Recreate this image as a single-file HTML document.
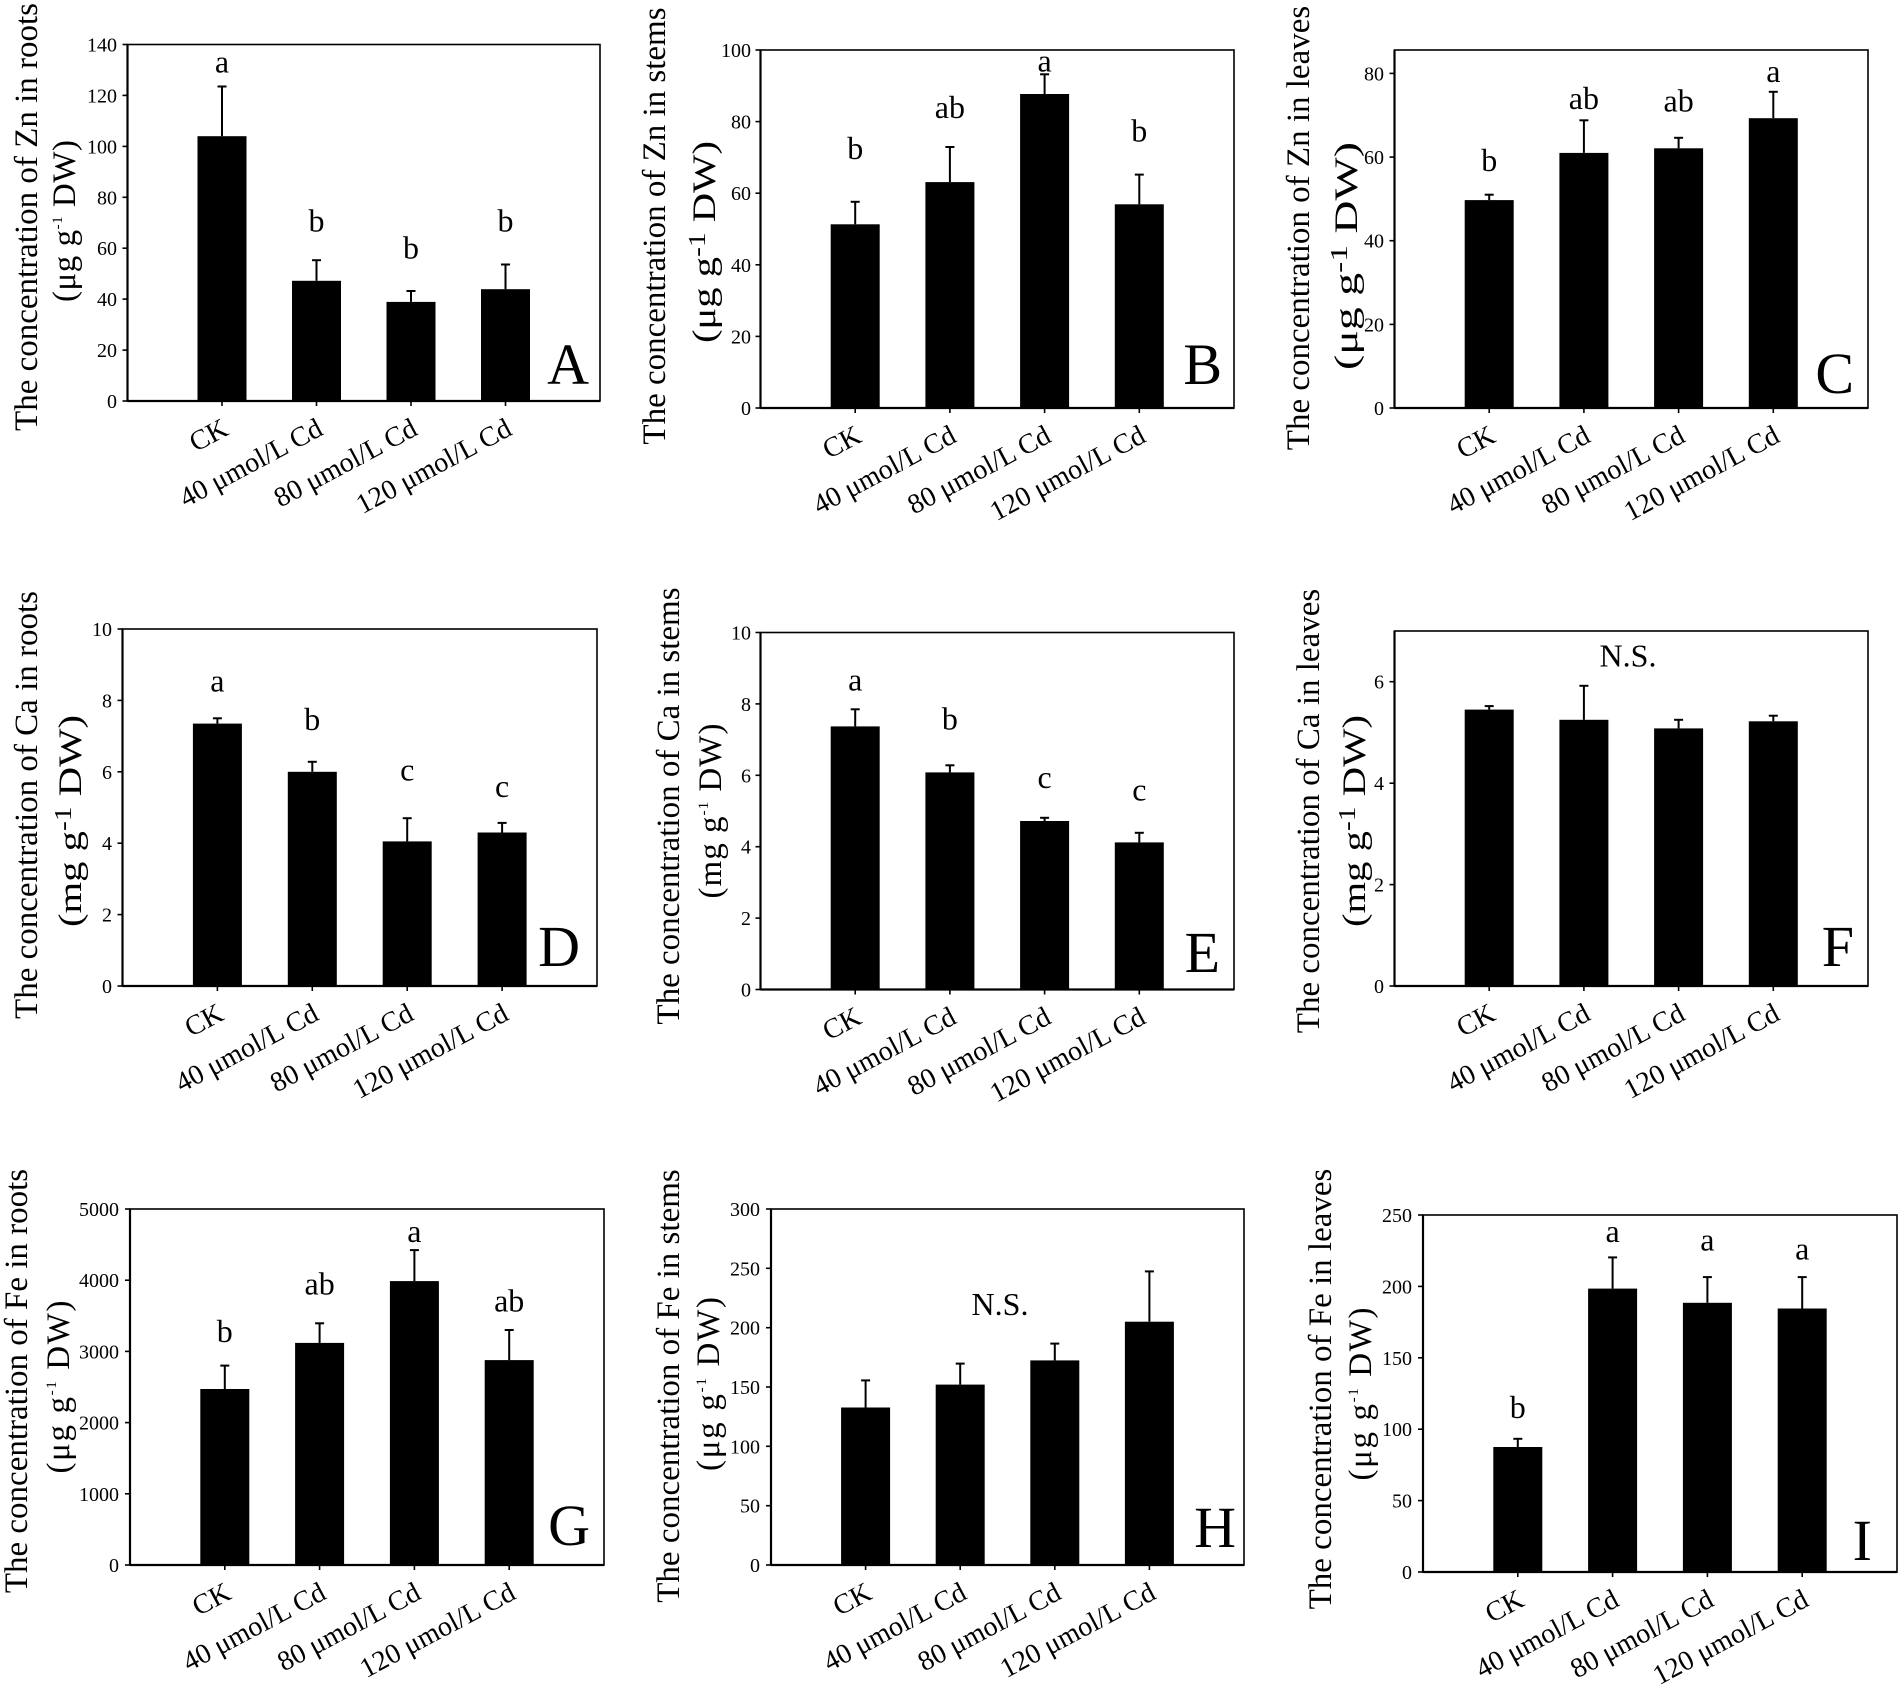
<!DOCTYPE html>
<html><head><meta charset="utf-8"><style>
html,body{margin:0;padding:0;background:#fff}
svg{display:block}
text{font-family:"Liberation Serif","DejaVu Serif",serif;fill:#000}
.tk{font-size:20px;text-anchor:end}
.xl{font-size:28px;text-anchor:end}
.lt{font-size:32px;text-anchor:middle}
.pl{font-size:58px;text-anchor:end}
.yt{font-size:33px;text-anchor:middle}
.bx{fill:none;stroke:#000;stroke-width:1.6}
.ax{stroke:#000;stroke-width:2.2}
.tm{stroke:#000;stroke-width:1.6}
.er{stroke:#000;stroke-width:2}
</style></head><body>
<svg xmlns="http://www.w3.org/2000/svg" width="1900" height="1693" viewBox="0 0 1900 1693">
<rect width="1900" height="1693" fill="#fff"/>

<!-- ================= A ================= -->
<g>
<rect class="bx" x="127.5" y="44.5" width="472.5" height="356.5"/>
<line class="ax" x1="127.5" y1="44.5" x2="127.5" y2="401"/>
<line class="ax" x1="127.5" y1="401" x2="600" y2="401"/>
<g class="tm">
<line x1="122.5" y1="401" x2="127.5" y2="401"/><line x1="122.5" y1="350.1" x2="127.5" y2="350.1"/>
<line x1="122.5" y1="299.1" x2="127.5" y2="299.1"/><line x1="122.5" y1="248.2" x2="127.5" y2="248.2"/>
<line x1="122.5" y1="197.3" x2="127.5" y2="197.3"/><line x1="122.5" y1="146.4" x2="127.5" y2="146.4"/>
<line x1="122.5" y1="95.4" x2="127.5" y2="95.4"/><line x1="122.5" y1="44.5" x2="127.5" y2="44.5"/>
<line x1="222" y1="401" x2="222" y2="406"/><line x1="316.5" y1="401" x2="316.5" y2="406"/>
<line x1="411" y1="401" x2="411" y2="406"/><line x1="505.5" y1="401" x2="505.5" y2="406"/>
</g>
<text class="tk" x="117" y="408">0</text><text class="tk" x="117" y="357.1">20</text>
<text class="tk" x="117" y="306.1">40</text><text class="tk" x="117" y="255.2">60</text>
<text class="tk" x="117" y="204.3">80</text><text class="tk" x="117" y="153.4">100</text>
<text class="tk" x="117" y="102.4">120</text><text class="tk" x="117" y="51.5">140</text>
<rect x="197.5" y="136.2" width="49" height="264.8"/>
<rect x="292" y="280.8" width="49" height="120.2"/>
<rect x="386.5" y="301.9" width="49" height="99.1"/>
<rect x="481" y="289.2" width="49" height="111.8"/>
<g class="er">
<line x1="222" y1="136.2" x2="222" y2="86.5"/><line x1="217.5" y1="86.5" x2="226.5" y2="86.5"/>
<line x1="316.5" y1="280.8" x2="316.5" y2="260.2"/><line x1="312" y1="260.2" x2="321" y2="260.2"/>
<line x1="411" y1="301.9" x2="411" y2="291"/><line x1="406.5" y1="291" x2="415.5" y2="291"/>
<line x1="505.5" y1="289.2" x2="505.5" y2="264.5"/><line x1="501" y1="264.5" x2="510" y2="264.5"/>
</g>
<text class="lt" x="222" y="72.7">a</text><text class="lt" x="316.5" y="231.7">b</text>
<text class="lt" x="411" y="258.3">b</text><text class="lt" x="505.5" y="231.7">b</text>
<text class="xl" transform="translate(230,434) rotate(-28)">CK</text>
<text class="xl" transform="translate(324.5,434) rotate(-28)">40 μmol/L Cd</text>
<text class="xl" transform="translate(419,434) rotate(-28)">80 μmol/L Cd</text>
<text class="xl" transform="translate(513.5,434) rotate(-28)">120 μmol/L Cd</text>
<text class="pl" x="589" y="384">A</text>
<text class="yt" transform="translate(37,217) rotate(-90)">The concentration of Zn in roots</text>
<text class="yt" transform="translate(75,221) rotate(-90)" textLength="162" lengthAdjust="spacing">(μg g<tspan font-size="15" dy="-13">-1</tspan><tspan dy="13"> DW)</tspan></text>
</g>

<!-- ================= B ================= -->
<g>
<rect class="bx" x="760.5" y="50" width="473.5" height="358"/>
<line class="ax" x1="760.5" y1="50" x2="760.5" y2="408"/>
<line class="ax" x1="760.5" y1="408" x2="1234" y2="408"/>
<g class="tm">
<line x1="755.5" y1="408" x2="760.5" y2="408"/><line x1="755.5" y1="336.4" x2="760.5" y2="336.4"/>
<line x1="755.5" y1="264.8" x2="760.5" y2="264.8"/><line x1="755.5" y1="193.2" x2="760.5" y2="193.2"/>
<line x1="755.5" y1="121.6" x2="760.5" y2="121.6"/><line x1="755.5" y1="50" x2="760.5" y2="50"/>
<line x1="855.2" y1="408" x2="855.2" y2="413"/><line x1="949.9" y1="408" x2="949.9" y2="413"/>
<line x1="1044.6" y1="408" x2="1044.6" y2="413"/><line x1="1139.3" y1="408" x2="1139.3" y2="413"/>
</g>
<text class="tk" x="751" y="415">0</text><text class="tk" x="751" y="343.4">20</text>
<text class="tk" x="751" y="271.8">40</text><text class="tk" x="751" y="200.2">60</text>
<text class="tk" x="751" y="128.6">80</text><text class="tk" x="751" y="57">100</text>
<rect x="830.7" y="224.3" width="49" height="183.7"/>
<rect x="925.4" y="182.1" width="49" height="225.9"/>
<rect x="1020.1" y="94" width="49" height="314"/>
<rect x="1114.8" y="204.3" width="49" height="203.7"/>
<g class="er">
<line x1="855.2" y1="224.3" x2="855.2" y2="201.8"/><line x1="850.7" y1="201.8" x2="859.7" y2="201.8"/>
<line x1="949.9" y1="182.1" x2="949.9" y2="147"/><line x1="945.4" y1="147" x2="954.4" y2="147"/>
<line x1="1044.6" y1="94" x2="1044.6" y2="74.3"/><line x1="1040.1" y1="74.3" x2="1049.1" y2="74.3"/>
<line x1="1139.3" y1="204.3" x2="1139.3" y2="174.6"/><line x1="1134.8" y1="174.6" x2="1143.8" y2="174.6"/>
</g>
<text class="lt" x="855.2" y="158.8">b</text><text class="lt" x="949.9" y="118">ab</text>
<text class="lt" x="1044.6" y="71.5">a</text><text class="lt" x="1139.3" y="141.3">b</text>
<text class="xl" transform="translate(863.2,441) rotate(-28)">CK</text>
<text class="xl" transform="translate(957.9,441) rotate(-28)">40 μmol/L Cd</text>
<text class="xl" transform="translate(1052.6,441) rotate(-28)">80 μmol/L Cd</text>
<text class="xl" transform="translate(1147.3,441) rotate(-28)">120 μmol/L Cd</text>
<text class="pl" x="1222" y="384">B</text>
<text class="yt" transform="translate(665,226) rotate(-90)">The concentration of Zn in stems</text>
<text class="yt" transform="translate(715,242) rotate(-90)" textLength="202" lengthAdjust="spacingAndGlyphs">(μg g<tspan font-size="24" dy="-10">-1</tspan><tspan dy="10"> DW)</tspan></text>
</g>

<!-- ================= C ================= -->
<g>
<rect class="bx" x="1394.5" y="50" width="473.5" height="358"/>
<line class="ax" x1="1394.5" y1="50" x2="1394.5" y2="408"/>
<line class="ax" x1="1394.5" y1="408" x2="1868" y2="408"/>
<g class="tm">
<line x1="1389.5" y1="408" x2="1394.5" y2="408"/><line x1="1389.5" y1="324.4" x2="1394.5" y2="324.4"/>
<line x1="1389.5" y1="240.7" x2="1394.5" y2="240.7"/><line x1="1389.5" y1="157.1" x2="1394.5" y2="157.1"/>
<line x1="1389.5" y1="73.4" x2="1394.5" y2="73.4"/>
<line x1="1489.2" y1="408" x2="1489.2" y2="413"/><line x1="1583.9" y1="408" x2="1583.9" y2="413"/>
<line x1="1678.6" y1="408" x2="1678.6" y2="413"/><line x1="1773.3" y1="408" x2="1773.3" y2="413"/>
</g>
<text class="tk" x="1384" y="415">0</text><text class="tk" x="1384" y="331.4">20</text>
<text class="tk" x="1384" y="247.7">40</text><text class="tk" x="1384" y="164.1">60</text>
<text class="tk" x="1384" y="80.4">80</text>
<rect x="1464.7" y="200.1" width="49" height="207.9"/>
<rect x="1559.4" y="152.9" width="49" height="255.1"/>
<rect x="1654.1" y="148.3" width="49" height="259.7"/>
<rect x="1748.8" y="118.2" width="49" height="289.8"/>
<g class="er">
<line x1="1489.2" y1="200.1" x2="1489.2" y2="194.7"/><line x1="1484.7" y1="194.7" x2="1493.7" y2="194.7"/>
<line x1="1583.9" y1="152.9" x2="1583.9" y2="120.3"/><line x1="1579.4" y1="120.3" x2="1588.4" y2="120.3"/>
<line x1="1678.6" y1="148.3" x2="1678.6" y2="137.8"/><line x1="1674.1" y1="137.8" x2="1683.1" y2="137.8"/>
<line x1="1773.3" y1="118.2" x2="1773.3" y2="91.8"/><line x1="1768.8" y1="91.8" x2="1777.8" y2="91.8"/>
</g>
<text class="lt" x="1489.2" y="170.9">b</text><text class="lt" x="1583.9" y="109">ab</text>
<text class="lt" x="1678.6" y="111.5">ab</text><text class="lt" x="1773.3" y="82.2">a</text>
<text class="xl" transform="translate(1497.2,441) rotate(-28)">CK</text>
<text class="xl" transform="translate(1591.9,441) rotate(-28)">40 μmol/L Cd</text>
<text class="xl" transform="translate(1686.6,441) rotate(-28)">80 μmol/L Cd</text>
<text class="xl" transform="translate(1781.3,441) rotate(-28)">120 μmol/L Cd</text>
<text class="pl" x="1854" y="393">C</text>
<text class="yt" transform="translate(1309,228) rotate(-90)">The concentration of Zn in leaves</text>
<text class="yt" transform="translate(1357,256) rotate(-90)" textLength="228" lengthAdjust="spacingAndGlyphs">(μg g<tspan font-size="24" dy="-10">-1</tspan><tspan dy="10"> DW)</tspan></text>
</g>

<!-- ================= D ================= -->
<g>
<rect class="bx" x="122.5" y="629" width="474.5" height="357"/>
<line class="ax" x1="122.5" y1="629" x2="122.5" y2="986"/>
<line class="ax" x1="122.5" y1="986" x2="597" y2="986"/>
<g class="tm">
<line x1="117.5" y1="986" x2="122.5" y2="986"/><line x1="117.5" y1="914.6" x2="122.5" y2="914.6"/>
<line x1="117.5" y1="843.2" x2="122.5" y2="843.2"/><line x1="117.5" y1="771.8" x2="122.5" y2="771.8"/>
<line x1="117.5" y1="700.4" x2="122.5" y2="700.4"/><line x1="117.5" y1="629" x2="122.5" y2="629"/>
<line x1="217.4" y1="986" x2="217.4" y2="991"/><line x1="312.3" y1="986" x2="312.3" y2="991"/>
<line x1="407.2" y1="986" x2="407.2" y2="991"/><line x1="502.1" y1="986" x2="502.1" y2="991"/>
</g>
<text class="tk" x="112" y="993">0</text><text class="tk" x="112" y="921.6">2</text>
<text class="tk" x="112" y="850.2">4</text><text class="tk" x="112" y="778.8">6</text>
<text class="tk" x="112" y="707.4">8</text><text class="tk" x="112" y="636">10</text>
<rect x="192.9" y="723.6" width="49" height="262.4"/>
<rect x="287.8" y="771.8" width="49" height="214.2"/>
<rect x="382.7" y="841.4" width="49" height="144.6"/>
<rect x="477.6" y="832.5" width="49" height="153.5"/>
<g class="er">
<line x1="217.4" y1="723.6" x2="217.4" y2="718.3"/><line x1="212.9" y1="718.3" x2="221.9" y2="718.3"/>
<line x1="312.3" y1="771.8" x2="312.3" y2="761.8"/><line x1="307.8" y1="761.8" x2="316.8" y2="761.8"/>
<line x1="407.2" y1="841.4" x2="407.2" y2="818.2"/><line x1="402.7" y1="818.2" x2="411.7" y2="818.2"/>
<line x1="502.1" y1="832.5" x2="502.1" y2="822.9"/><line x1="497.6" y1="822.9" x2="506.6" y2="822.9"/>
</g>
<text class="lt" x="217.4" y="691.5">a</text><text class="lt" x="312.3" y="730">b</text>
<text class="lt" x="407.2" y="780.7">c</text><text class="lt" x="502.1" y="796.8">c</text>
<text class="xl" transform="translate(225.4,1019) rotate(-28)">CK</text>
<text class="xl" transform="translate(320.3,1019) rotate(-28)">40 μmol/L Cd</text>
<text class="xl" transform="translate(415.2,1019) rotate(-28)">80 μmol/L Cd</text>
<text class="xl" transform="translate(510.1,1019) rotate(-28)">120 μmol/L Cd</text>
<text class="pl" x="580" y="966">D</text>
<text class="yt" transform="translate(37,805) rotate(-90)">The concentration of Ca in roots</text>
<text class="yt" transform="translate(81,821) rotate(-90)" textLength="212" lengthAdjust="spacingAndGlyphs">(mg g<tspan font-size="24" dy="-10">-1</tspan><tspan dy="10"> DW)</tspan></text>
</g>

<!-- ================= E ================= -->
<g>
<rect class="bx" x="760.5" y="632.5" width="473.5" height="357"/>
<line class="ax" x1="760.5" y1="632.5" x2="760.5" y2="989.5"/>
<line class="ax" x1="760.5" y1="989.5" x2="1234" y2="989.5"/>
<g class="tm">
<line x1="755.5" y1="989.5" x2="760.5" y2="989.5"/><line x1="755.5" y1="918.1" x2="760.5" y2="918.1"/>
<line x1="755.5" y1="846.7" x2="760.5" y2="846.7"/><line x1="755.5" y1="775.3" x2="760.5" y2="775.3"/>
<line x1="755.5" y1="703.9" x2="760.5" y2="703.9"/><line x1="755.5" y1="632.5" x2="760.5" y2="632.5"/>
<line x1="855.2" y1="989.5" x2="855.2" y2="994.5"/><line x1="949.9" y1="989.5" x2="949.9" y2="994.5"/>
<line x1="1044.6" y1="989.5" x2="1044.6" y2="994.5"/><line x1="1139.3" y1="989.5" x2="1139.3" y2="994.5"/>
</g>
<text class="tk" x="751" y="996.5">0</text><text class="tk" x="751" y="925.1">2</text>
<text class="tk" x="751" y="853.7">4</text><text class="tk" x="751" y="782.3">6</text>
<text class="tk" x="751" y="710.9">8</text><text class="tk" x="751" y="639.5">10</text>
<rect x="830.7" y="726.4" width="49" height="263.1"/>
<rect x="925.4" y="772.4" width="49" height="217.1"/>
<rect x="1020.1" y="821" width="49" height="168.5"/>
<rect x="1114.8" y="842.4" width="49" height="147.1"/>
<g class="er">
<line x1="855.2" y1="726.4" x2="855.2" y2="709.3"/><line x1="850.7" y1="709.3" x2="859.7" y2="709.3"/>
<line x1="949.9" y1="772.4" x2="949.9" y2="765.3"/><line x1="945.4" y1="765.3" x2="954.4" y2="765.3"/>
<line x1="1044.6" y1="821" x2="1044.6" y2="817.8"/><line x1="1040.1" y1="817.8" x2="1049.1" y2="817.8"/>
<line x1="1139.3" y1="842.4" x2="1139.3" y2="832.8"/><line x1="1134.8" y1="832.8" x2="1143.8" y2="832.8"/>
</g>
<text class="lt" x="855.2" y="690.7">a</text><text class="lt" x="949.9" y="729.6">b</text>
<text class="lt" x="1044.6" y="787.8">c</text><text class="lt" x="1139.3" y="800.3">c</text>
<text class="xl" transform="translate(863.2,1022.5) rotate(-28)">CK</text>
<text class="xl" transform="translate(957.9,1022.5) rotate(-28)">40 μmol/L Cd</text>
<text class="xl" transform="translate(1052.6,1022.5) rotate(-28)">80 μmol/L Cd</text>
<text class="xl" transform="translate(1147.3,1022.5) rotate(-28)">120 μmol/L Cd</text>
<text class="pl" x="1220" y="972">E</text>
<text class="yt" transform="translate(679,806) rotate(-90)">The concentration of Ca in stems</text>
<text class="yt" transform="translate(721,811) rotate(-90)" textLength="175" lengthAdjust="spacing">(mg g<tspan font-size="15" dy="-13">-1</tspan><tspan dy="13"> DW)</tspan></text>
</g>

<!-- ================= F ================= -->
<g>
<rect class="bx" x="1394.5" y="631" width="473.5" height="355"/>
<line class="ax" x1="1394.5" y1="631" x2="1394.5" y2="986"/>
<line class="ax" x1="1394.5" y1="986" x2="1868" y2="986"/>
<g class="tm">
<line x1="1389.5" y1="986" x2="1394.5" y2="986"/><line x1="1389.5" y1="884.6" x2="1394.5" y2="884.6"/>
<line x1="1389.5" y1="783.2" x2="1394.5" y2="783.2"/><line x1="1389.5" y1="681.7" x2="1394.5" y2="681.7"/>
<line x1="1489.2" y1="986" x2="1489.2" y2="991"/><line x1="1583.9" y1="986" x2="1583.9" y2="991"/>
<line x1="1678.6" y1="986" x2="1678.6" y2="991"/><line x1="1773.3" y1="986" x2="1773.3" y2="991"/>
</g>
<text class="tk" x="1384" y="993">0</text><text class="tk" x="1384" y="891.6">2</text>
<text class="tk" x="1384" y="790.2">4</text><text class="tk" x="1384" y="688.7">6</text>
<rect x="1464.7" y="709.6" width="49" height="276.4"/>
<rect x="1559.4" y="719.8" width="49" height="266.2"/>
<rect x="1654.1" y="728.4" width="49" height="257.6"/>
<rect x="1748.8" y="721.3" width="49" height="264.7"/>
<g class="er">
<line x1="1489.2" y1="709.6" x2="1489.2" y2="706.1"/><line x1="1484.7" y1="706.1" x2="1493.7" y2="706.1"/>
<line x1="1583.9" y1="719.8" x2="1583.9" y2="685.8"/><line x1="1579.4" y1="685.8" x2="1588.4" y2="685.8"/>
<line x1="1678.6" y1="728.4" x2="1678.6" y2="719.8"/><line x1="1674.1" y1="719.8" x2="1683.1" y2="719.8"/>
<line x1="1773.3" y1="721.3" x2="1773.3" y2="715.7"/><line x1="1768.8" y1="715.7" x2="1777.8" y2="715.7"/>
</g>
<text class="lt" x="1628" y="666.5">N.S.</text>
<text class="xl" transform="translate(1497.2,1019) rotate(-28)">CK</text>
<text class="xl" transform="translate(1591.9,1019) rotate(-28)">40 μmol/L Cd</text>
<text class="xl" transform="translate(1686.6,1019) rotate(-28)">80 μmol/L Cd</text>
<text class="xl" transform="translate(1781.3,1019) rotate(-28)">120 μmol/L Cd</text>
<text class="pl" x="1854" y="966">F</text>
<text class="yt" transform="translate(1319,811) rotate(-90)">The concentration of Ca in leaves</text>
<text class="yt" transform="translate(1365,821) rotate(-90)" textLength="212" lengthAdjust="spacingAndGlyphs">(mg g<tspan font-size="24" dy="-10">-1</tspan><tspan dy="10"> DW)</tspan></text>
</g>

<!-- ================= G ================= -->
<g>
<rect class="bx" x="130" y="1209" width="474" height="356"/>
<line class="ax" x1="130" y1="1209" x2="130" y2="1565"/>
<line class="ax" x1="130" y1="1565" x2="604" y2="1565"/>
<g class="tm">
<line x1="125" y1="1565" x2="130" y2="1565"/><line x1="125" y1="1493.8" x2="130" y2="1493.8"/>
<line x1="125" y1="1422.6" x2="130" y2="1422.6"/><line x1="125" y1="1351.4" x2="130" y2="1351.4"/>
<line x1="125" y1="1280.2" x2="130" y2="1280.2"/><line x1="125" y1="1209" x2="130" y2="1209"/>
<line x1="224.8" y1="1565" x2="224.8" y2="1570"/><line x1="319.6" y1="1565" x2="319.6" y2="1570"/>
<line x1="414.4" y1="1565" x2="414.4" y2="1570"/><line x1="509.2" y1="1565" x2="509.2" y2="1570"/>
</g>
<text class="tk" x="119" y="1572">0</text><text class="tk" x="119" y="1500.8">1000</text>
<text class="tk" x="119" y="1429.6">2000</text><text class="tk" x="119" y="1358.4">3000</text>
<text class="tk" x="119" y="1287.2">4000</text><text class="tk" x="119" y="1216">5000</text>
<rect x="200.3" y="1389" width="49" height="176"/>
<rect x="295.1" y="1342.9" width="49" height="222.1"/>
<rect x="389.9" y="1281.1" width="49" height="283.9"/>
<rect x="484.7" y="1360.1" width="49" height="204.9"/>
<g class="er">
<line x1="224.8" y1="1389" x2="224.8" y2="1365.6"/><line x1="220.3" y1="1365.6" x2="229.3" y2="1365.6"/>
<line x1="319.6" y1="1342.9" x2="319.6" y2="1323.3"/><line x1="315.1" y1="1323.3" x2="324.1" y2="1323.3"/>
<line x1="414.4" y1="1281.1" x2="414.4" y2="1250.1"/><line x1="409.9" y1="1250.1" x2="418.9" y2="1250.1"/>
<line x1="509.2" y1="1360.1" x2="509.2" y2="1330"/><line x1="504.7" y1="1330" x2="513.7" y2="1330"/>
</g>
<text class="lt" x="224.8" y="1341.9">b</text><text class="lt" x="319.6" y="1294.4">ab</text>
<text class="lt" x="414.4" y="1241.9">a</text><text class="lt" x="509.2" y="1311.5">ab</text>
<text class="xl" transform="translate(232.8,1598) rotate(-28)">CK</text>
<text class="xl" transform="translate(327.6,1598) rotate(-28)">40 μmol/L Cd</text>
<text class="xl" transform="translate(422.4,1598) rotate(-28)">80 μmol/L Cd</text>
<text class="xl" transform="translate(517.2,1598) rotate(-28)">120 μmol/L Cd</text>
<text class="pl" x="590" y="1545">G</text>
<text class="yt" transform="translate(27,1381) rotate(-90)">The concentration of Fe in roots</text>
<text class="yt" transform="translate(69,1387) rotate(-90)" textLength="173" lengthAdjust="spacing">(μg g<tspan font-size="15" dy="-13">-1</tspan><tspan dy="13"> DW)</tspan></text>
</g>

<!-- ================= H ================= -->
<g>
<rect class="bx" x="771" y="1209" width="473" height="356"/>
<line class="ax" x1="771" y1="1209" x2="771" y2="1565"/>
<line class="ax" x1="771" y1="1565" x2="1244" y2="1565"/>
<g class="tm">
<line x1="766" y1="1565" x2="771" y2="1565"/><line x1="766" y1="1505.7" x2="771" y2="1505.7"/>
<line x1="766" y1="1446.3" x2="771" y2="1446.3"/><line x1="766" y1="1387" x2="771" y2="1387"/>
<line x1="766" y1="1327.7" x2="771" y2="1327.7"/><line x1="766" y1="1268.3" x2="771" y2="1268.3"/>
<line x1="766" y1="1209" x2="771" y2="1209"/>
<line x1="865.6" y1="1565" x2="865.6" y2="1570"/><line x1="960.2" y1="1565" x2="960.2" y2="1570"/>
<line x1="1054.8" y1="1565" x2="1054.8" y2="1570"/><line x1="1149.4" y1="1565" x2="1149.4" y2="1570"/>
</g>
<text class="tk" x="760" y="1572">0</text><text class="tk" x="760" y="1512.7">50</text>
<text class="tk" x="760" y="1453.3">100</text><text class="tk" x="760" y="1394">150</text>
<text class="tk" x="760" y="1334.7">200</text><text class="tk" x="760" y="1275.3">250</text>
<text class="tk" x="760" y="1216">300</text>
<rect x="841.1" y="1407.5" width="49" height="157.5"/>
<rect x="935.7" y="1384.6" width="49" height="180.4"/>
<rect x="1030.3" y="1360.4" width="49" height="204.6"/>
<rect x="1124.9" y="1321.7" width="49" height="243.3"/>
<g class="er">
<line x1="865.6" y1="1407.5" x2="865.6" y2="1380.4"/><line x1="861.1" y1="1380.4" x2="870.1" y2="1380.4"/>
<line x1="960.2" y1="1384.6" x2="960.2" y2="1363.6"/><line x1="955.7" y1="1363.6" x2="964.7" y2="1363.6"/>
<line x1="1054.8" y1="1360.4" x2="1054.8" y2="1343.6"/><line x1="1050.3" y1="1343.6" x2="1059.3" y2="1343.6"/>
<line x1="1149.4" y1="1321.7" x2="1149.4" y2="1271.4"/><line x1="1144.9" y1="1271.4" x2="1153.9" y2="1271.4"/>
</g>
<text class="lt" x="1000" y="1315">N.S.</text>
<text class="xl" transform="translate(873.6,1598) rotate(-28)">CK</text>
<text class="xl" transform="translate(968.2,1598) rotate(-28)">40 μmol/L Cd</text>
<text class="xl" transform="translate(1062.8,1598) rotate(-28)">80 μmol/L Cd</text>
<text class="xl" transform="translate(1157.4,1598) rotate(-28)">120 μmol/L Cd</text>
<text class="pl" x="1236" y="1547">H</text>
<text class="yt" transform="translate(679,1386) rotate(-90)">The concentration of Fe in stems</text>
<text class="yt" transform="translate(719,1384) rotate(-90)" textLength="174" lengthAdjust="spacing">(μg g<tspan font-size="15" dy="-13">-1</tspan><tspan dy="13"> DW)</tspan></text>
</g>

<!-- ================= I ================= -->
<g>
<rect class="bx" x="1423" y="1215" width="474" height="357"/>
<line class="ax" x1="1423" y1="1215" x2="1423" y2="1572"/>
<line class="ax" x1="1423" y1="1572" x2="1897" y2="1572"/>
<g class="tm">
<line x1="1418" y1="1572" x2="1423" y2="1572"/><line x1="1418" y1="1500.6" x2="1423" y2="1500.6"/>
<line x1="1418" y1="1429.2" x2="1423" y2="1429.2"/><line x1="1418" y1="1357.8" x2="1423" y2="1357.8"/>
<line x1="1418" y1="1286.4" x2="1423" y2="1286.4"/><line x1="1418" y1="1215" x2="1423" y2="1215"/>
<line x1="1517.8" y1="1572" x2="1517.8" y2="1577"/><line x1="1612.6" y1="1572" x2="1612.6" y2="1577"/>
<line x1="1707.4" y1="1572" x2="1707.4" y2="1577"/><line x1="1802.2" y1="1572" x2="1802.2" y2="1577"/>
</g>
<text class="tk" x="1412" y="1579">0</text><text class="tk" x="1412" y="1507.6">50</text>
<text class="tk" x="1412" y="1436.2">100</text><text class="tk" x="1412" y="1364.8">150</text>
<text class="tk" x="1412" y="1293.4">200</text><text class="tk" x="1412" y="1222">250</text>
<rect x="1493.3" y="1447" width="49" height="125"/>
<rect x="1588.1" y="1288.6" width="49" height="283.4"/>
<rect x="1682.9" y="1302.8" width="49" height="269.2"/>
<rect x="1777.7" y="1308.5" width="49" height="263.5"/>
<g class="er">
<line x1="1517.8" y1="1447" x2="1517.8" y2="1438.8"/><line x1="1513.3" y1="1438.8" x2="1522.3" y2="1438.8"/>
<line x1="1612.6" y1="1288.6" x2="1612.6" y2="1257.4"/><line x1="1608.1" y1="1257.4" x2="1617.1" y2="1257.4"/>
<line x1="1707.4" y1="1302.8" x2="1707.4" y2="1277.1"/><line x1="1702.9" y1="1277.1" x2="1711.9" y2="1277.1"/>
<line x1="1802.2" y1="1308.5" x2="1802.2" y2="1277.1"/><line x1="1797.7" y1="1277.1" x2="1806.7" y2="1277.1"/>
</g>
<text class="lt" x="1517.8" y="1417.8">b</text><text class="lt" x="1612.6" y="1242.1">a</text>
<text class="lt" x="1707.4" y="1250.7">a</text><text class="lt" x="1802.2" y="1259.6">a</text>
<text class="xl" transform="translate(1525.8,1605) rotate(-28)">CK</text>
<text class="xl" transform="translate(1620.6,1605) rotate(-28)">40 μmol/L Cd</text>
<text class="xl" transform="translate(1715.4,1605) rotate(-28)">80 μmol/L Cd</text>
<text class="xl" transform="translate(1810.2,1605) rotate(-28)">120 μmol/L Cd</text>
<text class="pl" x="1872" y="1560">I</text>
<text class="yt" transform="translate(1331,1389) rotate(-90)">The concentration of Fe in leaves</text>
<text class="yt" transform="translate(1371,1394) rotate(-90)" textLength="173" lengthAdjust="spacing">(μg g<tspan font-size="15" dy="-13">-1</tspan><tspan dy="13"> DW)</tspan></text>
</g>
</svg>
</body></html>
